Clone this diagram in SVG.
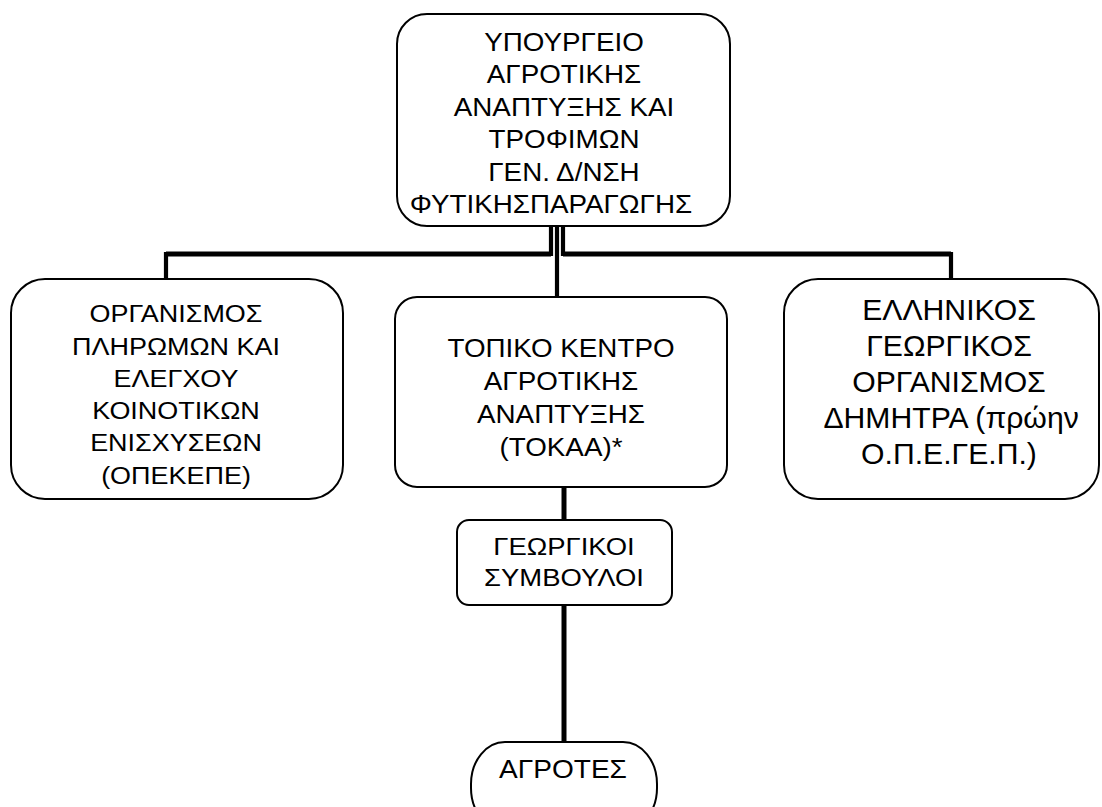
<svg xmlns="http://www.w3.org/2000/svg" width="1102" height="807" viewBox="0 0 1102 807">
<style>
.box{fill:#fff;stroke:#000;stroke-width:2}
text{font-family:"Liberation Sans",Arial,sans-serif;fill:#000;text-anchor:middle}
.c{fill:none;stroke:#000;stroke-width:5;stroke-linejoin:miter}
.c4{fill:none;stroke:#000;stroke-width:4.2;stroke-linejoin:miter}
</style>
<rect width="1102" height="807" fill="#fff"/>
<g id="connectors">
<path class="c4" d="M166 279 V254 H551 V226"/>
<path class="c4" d="M951 279 V254 H563 V226"/>
<path class="c" d="M166 254 H551 M563 254 H951"/>
<path class="c4" d="M557 226 V297"/>
<path class="c" d="M564 480 V520"/>
<path class="c" d="M564 605 V742"/>
</g>
<g id="ministry">
<rect class="box" x="397" y="14" width="333" height="212" rx="30" ry="30"/>
<g transform="translate(564 0) scale(1.09 1)">
<text font-size="25.5"><tspan x="0" y="51">ΥΠΟΥΡΓΕΙΟ</tspan><tspan x="0" y="83.5">ΑΓΡΟΤΙΚΗΣ</tspan><tspan x="0" y="116">ΑΝΑΠΤΥΞΗΣ ΚΑΙ</tspan><tspan x="0" y="148.5">ΤΡΟΦΙΜΩΝ</tspan><tspan x="0" y="181">ΓΕΝ. Δ/ΝΣΗ</tspan><tspan x="-12" y="213">ΦΥΤΙΚΗΣΠΑΡΑΓΩΓΗΣ</tspan></text>
</g>
</g>
<g id="opekepe">
<rect class="box" x="11" y="279" width="332" height="220" rx="34" ry="34"/>
<g transform="translate(176 0) scale(1.1 1)">
<text font-size="24.5"><tspan x="0" y="322">ΟΡΓΑΝΙΣΜΟΣ</tspan><tspan x="0" y="355">ΠΛΗΡΩΜΩΝ ΚΑΙ</tspan><tspan x="0" y="387">ΕΛΕΓΧΟΥ</tspan><tspan x="0" y="419.5">ΚΟΙΝΟΤΙΚΩΝ</tspan><tspan x="0" y="451">ΕΝΙΣΧΥΣΕΩΝ</tspan><tspan x="0" y="484.5">(ΟΠΕΚΕΠΕ)</tspan></text>
</g>
</g>
<g id="tokaa">
<rect class="box" x="395" y="297" width="332" height="190" rx="22" ry="22"/>
<g transform="translate(561 0) scale(1.09 1)">
<text font-size="25.5"><tspan x="0" y="357">ΤΟΠΙΚΟ ΚΕΝΤΡΟ</tspan><tspan x="0" y="390">ΑΓΡΟΤΙΚΗΣ</tspan><tspan x="0" y="423">ΑΝΑΠΤΥΞΗΣ</tspan><tspan x="0" y="456">(ΤΟΚΑΑ)*</tspan></text>
</g>
</g>
<g id="dimitra">
<rect class="box" x="784" y="279" width="315" height="220" rx="34" ry="34"/>
<g transform="translate(949 0) scale(1.04 1)">
<text font-size="29"><tspan x="0" y="320">ΕΛΛΗΝΙΚΟΣ</tspan><tspan x="0" y="356">ΓΕΩΡΓΙΚΟΣ</tspan><tspan x="0" y="392">ΟΡΓΑΝΙΣΜΟΣ</tspan><tspan x="2" y="428">ΔΗΜΗΤΡΑ (πρώην</tspan><tspan x="0" y="464">Ο.Π.Ε.ΓΕ.Π.)</tspan></text>
</g>
</g>
<g id="symvouloi">
<rect class="box" x="457" y="520" width="215" height="85" rx="12" ry="12"/>
<g transform="translate(564 0) scale(1.12 1)">
<text font-size="24.5"><tspan x="0" y="555">ΓΕΩΡΓΙΚΟΙ</tspan><tspan x="0" y="586">ΣΥΜΒΟΥΛΟΙ</tspan></text>
</g>
</g>
<g id="agrotes">
<rect class="box" x="471" y="742" width="186" height="88" rx="34" ry="42"/>
<g transform="translate(563 0) scale(1.1 1)">
<text font-size="25.5" x="0" y="778">ΑΓΡΟΤΕΣ</text>
</g>
</g>
</svg>
